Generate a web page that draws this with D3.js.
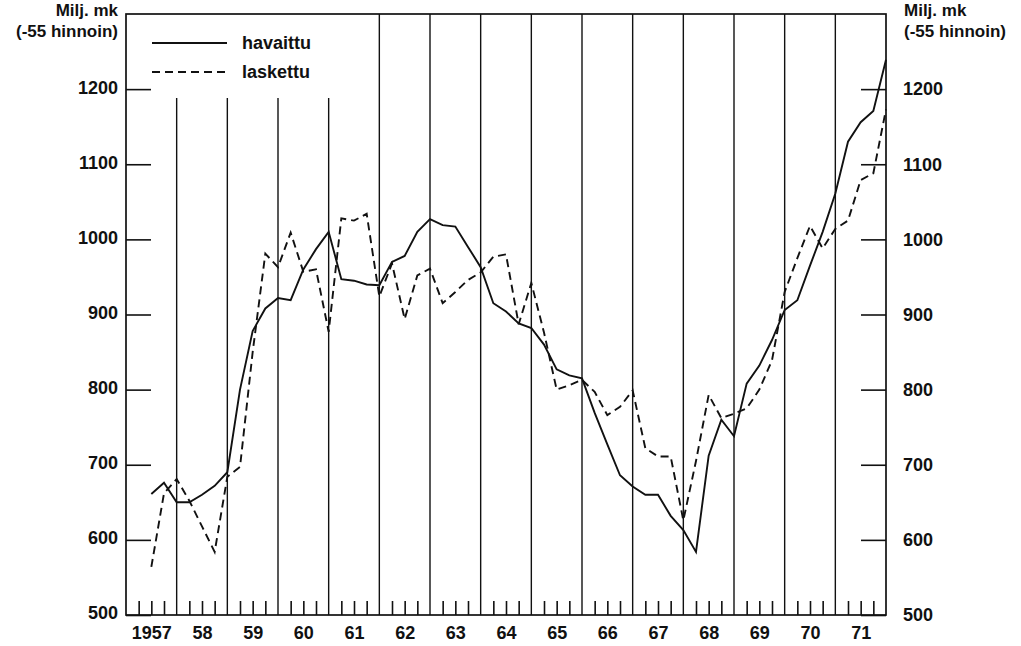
<!DOCTYPE html>
<html>
<head>
<meta charset="utf-8">
<script src="https://cdn.jsdelivr.net/npm/d3@7"></script>
<style>
  body { margin: 0; background: #fff; }
  svg text { font-family: "Liberation Sans", Arial, sans-serif; font-weight: bold; fill: #111; }
</style>
</head>
<body>
<svg id="chart"></svg>
<script>
// vuodet ja neljännesvuosiarvot (alkaen 1957 II neljännes)
const years = d3.range(1957, 1972);
const yearLabels = ["1957","58","59","60","61","62","63","64","65","66","67","68","69","70","71"];
const yTicks = [500, 600, 700, 800, 900, 1000, 1100, 1200];
const firstPoint = 1957.5;

const havaittu = [
  661, 676, 650,
  650, 660, 672, 690,
  800, 878, 908, 922,
  919, 960, 987, 1010,
  947, 945, 940, 939,
  970, 978, 1010, 1027,
  1019, 1017, 990, 963,
  915, 904, 888, 882,
  860, 827, 819, 815,
  769, 727, 686, 671,
  660, 660, 632, 613,
  584, 712, 760, 738,
  808, 832, 866, 906,
  919, 965, 1010, 1061,
  1130, 1156, 1171, 1239
];

const laskettu = [
  564, 662, 681,
  652, 618, 584, 684,
  697, 850, 981, 963,
  1009, 957, 960, 877,
  1028, 1025, 1034, 924,
  968, 894, 952, 961,
  915, 930, 946, 956,
  977, 980, 887, 942,
  876, 800, 806, 813,
  797, 766, 777, 799,
  722, 711, 711, 626,
  705, 793, 762, 768,
  775, 800, 839, 930,
  975, 1018, 988, 1014,
  1025, 1079, 1088, 1173
];

const W = 1021, H = 646;
const box = {left: 126, right: 886, top: 14, bottom: 615};
const fs = "18px";

const svg = d3.select("#chart").attr("width", W).attr("height", H);

const x = d3.scaleLinear().domain([1957, 1972]).range([box.left, box.right]);
const y = d3.scaleLinear().domain([500, 1300]).range([box.bottom, box.top]);

// kehys
svg.append("rect")
  .attr("x", box.left).attr("y", box.top)
  .attr("width", box.right - box.left).attr("height", box.bottom - box.top)
  .attr("fill", "none").attr("stroke", "#111").attr("stroke-width", 1.7);

// vuosirajat
svg.append("g").selectAll("line")
  .data(years.slice(1))
  .join("line")
  .attr("x1", d => x(d)).attr("x2", d => x(d))
  .attr("y1", d => d <= 1961 ? 98 : box.top)
  .attr("y2", box.bottom)
  .attr("stroke", "#111").attr("stroke-width", 1.4);

// neljännesvuosien pikkuviivat
const qTicks = [];
years.forEach(yr => [0.25, 0.5, 0.75].forEach(q => qTicks.push(yr + q)));
svg.append("g")
  .attr("transform", `translate(0,${box.bottom})`)
  .call(d3.axisBottom(x).tickValues(qTicks).tickSize(-14).tickFormat(""))
  .call(g => g.select(".domain").remove())
  .selectAll("line").attr("stroke", "#111").attr("stroke-width", 1.6);

// vuosien nimet
svg.append("g")
  .attr("transform", `translate(0,${box.bottom})`)
  .call(d3.axisBottom(x).tickValues(years.map(d => d + 0.5)).tickSize(0).tickPadding(11)
    .tickFormat((d, i) => yearLabels[i]))
  .call(g => g.select(".domain").remove())
  .selectAll("text").style("font-size", fs);

// y-akselit
svg.append("g")
  .attr("transform", `translate(${box.left},0)`)
  .call(d3.axisLeft(y).tickValues(yTicks).tickSize(-25).tickPadding(8).tickFormat(d3.format("d")))
  .call(g => g.select(".domain").remove())
  .call(g => g.selectAll("line").attr("stroke", "#111").attr("stroke-width", 1.6))
  .selectAll("text").style("font-size", fs).attr("dy", "0.22em");

svg.append("g")
  .attr("transform", `translate(${box.right},0)`)
  .call(d3.axisRight(y).tickValues(yTicks).tickSize(-25).tickPadding(17).tickFormat(d3.format("d")))
  .call(g => g.select(".domain").remove())
  .call(g => g.selectAll("line").attr("stroke", "#111").attr("stroke-width", 1.6))
  .selectAll("text").style("font-size", fs).attr("dy", "0.32em");

// yksikkö
[["end", 118], ["start", 904]].forEach(([anchor, tx]) => {
  svg.append("text").attr("x", tx).attr("y", 16).attr("text-anchor", anchor)
    .style("font-size", "17px").text("Milj. mk");
  svg.append("text").attr("x", tx).attr("y", 37).attr("text-anchor", anchor)
    .style("font-size", "17px").text("(-55 hinnoin)");
});

// viivat
const line = d3.line()
  .x((d, i) => x(firstPoint + i * 0.25))
  .y(d => y(d));

svg.append("path").datum(laskettu)
  .attr("d", line)
  .attr("fill", "none").attr("stroke", "#111").attr("stroke-width", 1.9)
  .attr("stroke-dasharray", "8,5");

svg.append("path").datum(havaittu)
  .attr("d", line)
  .attr("fill", "none").attr("stroke", "#111").attr("stroke-width", 1.9);

// selite
const legend = [{name: "havaittu", dash: null, ly: 43}, {name: "laskettu", dash: "8,5", ly: 72}];
legend.forEach(l => {
  svg.append("line").attr("x1", 152).attr("x2", 227).attr("y1", l.ly).attr("y2", l.ly)
    .attr("stroke", "#111").attr("stroke-width", 1.9)
    .attr("stroke-dasharray", l.dash);
  svg.append("text").attr("x", 242).attr("y", l.ly + 6)
    .style("font-size", fs).text(l.name);
});
</script>
</body>
</html>
